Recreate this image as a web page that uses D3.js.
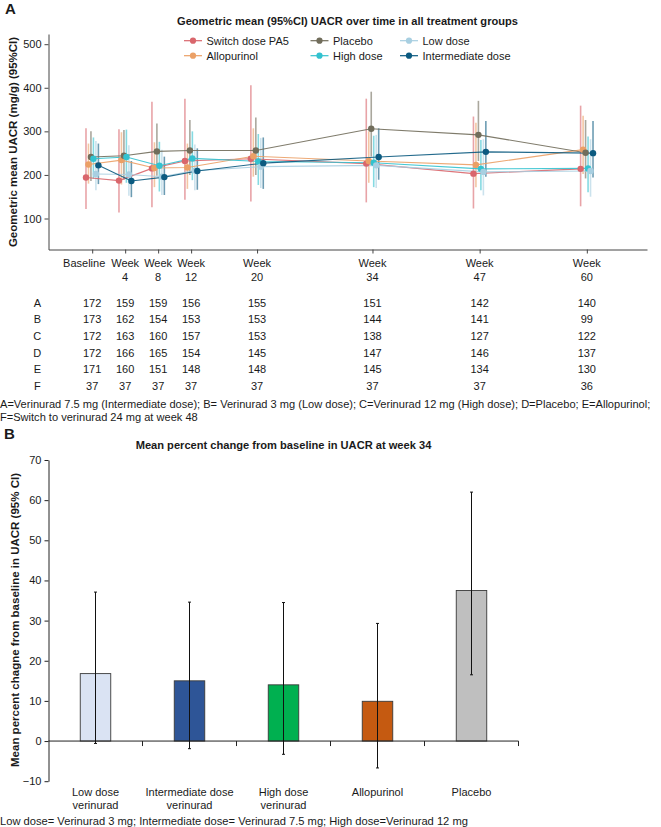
<!DOCTYPE html>
<html>
<head>
<meta charset="utf-8">
<script src="https://cdn.jsdelivr.net/npm/d3@7"></script>
<style>
  body { margin: 0; background: #fff; }
  svg { display: block; }
  text { font-family: "Liberation Sans", Arial, Helvetica, sans-serif; fill: #1a1a1a; }
</style>
</head>
<body>
<svg id="chart" width="661" height="827"></svg>
<script>
// ---- Panel A data ----
const weeks = [0, 4, 8, 12, 20, 34, 47, 60];
const tickTop = ["Baseline", "Week", "Week", "Week", "Week", "Week", "Week", "Week"];
const tickBottom = ["", "4", "8", "12", "20", "34", "47", "60"];

const groups = ["Switch dose PA5", "Allopurinol", "Placebo", "High dose", "Low dose", "Intermediate dose"];
const groupColors = ["#d9666c", "#eba066", "#716d5b", "#33c2cf", "#a8cfe1", "#0b5a80"];

const switchMean = [194, 187, 215, 232, 237, 226, 203, 214];
const switchLow  = [122, 114, 126, 143, 139, 137, 123, 128];
const switchHigh = [307, 305, 368, 375, 406, 375, 334, 359];

const alloMean = [224, 234, 216, 217, 243, 232, 223, 258];
const alloLow  = [180, 178, 172, 168, 196, 182, 172, 202];
const alloHigh = [272, 298, 275, 272, 307, 300, 320, 336];

const placeboMean = [241, 244, 254, 256, 256, 306, 292, 251];
const placeboLow  = [186, 189, 198, 200, 200, 242, 232, 192];
const placeboHigh = [300, 303, 318, 326, 332, 391, 370, 326];

const highMean = [237, 241, 221, 238, 231, 228, 214, 215];
const highLow  = [191, 182, 162, 188, 177, 172, 165, 160];
const highHigh = [286, 304, 276, 300, 294, 290, 280, 288];

const lowMean = [202, 201, 196, 210, 219, 222, 207, 209];
const lowLow  = [165, 152, 154, 165, 170, 170, 153, 150];
const lowHigh = [278, 268, 258, 270, 285, 292, 282, 282];

const interMean = [222, 186, 195, 209, 227, 241, 253, 250];
const interLow  = [179, 149, 154, 166, 168, 189, 196, 194];
const interHigh = [272, 232, 242, 261, 286, 307, 324, 324];

const yTicksA = [100, 200, 300, 400, 500];

// numbers at risk
const rowLabels = ["A", "B", "C", "D", "E", "F"];
const nA = [172, 159, 159, 156, 155, 151, 142, 140];
const nB = [173, 162, 154, 153, 153, 144, 141, 99];
const nC = [172, 163, 160, 157, 153, 138, 127, 122];
const nD = [172, 166, 165, 154, 145, 147, 146, 137];
const nE = [171, 160, 151, 148, 148, 145, 134, 130];
const nF = [37, 37, 37, 37, 37, 37, 37, 36];

// ---- Panel B data ----
const catsB = ["Low dose verinurad", "Intermediate dose verinurad", "High dose verinurad", "Allopurinol", "Placebo"];
const catLinesB = [["Low dose", "verinurad"], ["Intermediate dose", "verinurad"], ["High dose", "verinurad"], ["Allopurinol"], ["Placebo"]];
const meanB = [16.8, 15.0, 14.0, 9.9, 37.5];
const lowB  = [-0.6, -1.9, -3.3, -6.7, 16.5];
const highB = [37.1, 34.6, 34.5, 29.3, 62.0];
const colorsB = ["#dae3f3", "#2e5597", "#00b050", "#c55a11", "#bfbfbf"];
const yTicksB = [-10, 0, 10, 20, 30, 40, 50, 60, 70];

const series = [
  { mean: switchMean, lo: switchLow, hi: switchHigh },
  { mean: alloMean, lo: alloLow, hi: alloHigh },
  { mean: placeboMean, lo: placeboLow, hi: placeboHigh },
  { mean: highMean, lo: highLow, hi: highHigh },
  { mean: lowMean, lo: lowLow, hi: lowHigh },
  { mean: interMean, lo: interLow, hi: interHigh }
].map((s, i) => ({
  name: groups[i],
  color: groupColors[i],
  points: weeks.map((w, j) => ({ week: w, mean: s.mean[j], lo: s.lo[j], hi: s.hi[j] }))
}));

const svg = d3.select("#chart");

// scale a text element's font so it spans a given width
function fitWidth(sel, w) {
  const len = sel.node().getComputedTextLength();
  const fs = parseFloat(sel.attr("font-size"));
  sel.attr("font-size", (fs * w / len).toFixed(2));
}

// ================= Panel A =================
const xA = d3.scaleLinear().domain([-5.3, 67.3]).range([48.5, 647]);
const yA = d3.scaleLinear().domain([28.9, 523.4]).range([249.5, 34]);
const dodge = d3.scalePoint().domain(groups).range([-6.2, 6.2]);

svg.append("text").attr("x", 5).attr("y", 14)
  .attr("font-size", 15).attr("font-weight", "bold").text("A");

const titleA = svg.append("text").attr("x", 347.5).attr("y", 24.5)
  .attr("text-anchor", "middle").attr("font-size", 12).attr("font-weight", "bold")
  .style("font-family", '"Liberation Sans Narrow", "Arial Narrow", "Liberation Sans", sans-serif')
  .text("Geometric mean (95%CI) UACR over time in all treatment groups");
fitWidth(titleA, 341);

// legend
const legendCols = [184, 310.5, 400];
const legendRows = [40.7, 55.7];
const legend = svg.append("g");
groups.forEach((g, i) => {
  const lx = legendCols[Math.floor(i / 2)];
  const ly = legendRows[i % 2];
  const item = legend.append("g").attr("transform", `translate(${lx},${ly})`);
  item.append("line").attr("x1", 0).attr("x2", 18).attr("stroke", groupColors[i]).attr("stroke-width", 1.2);
  item.append("circle").attr("cx", 9).attr("r", 3.1).attr("fill", groupColors[i]);
  item.append("text").attr("x", 22.5).attr("y", 4).attr("font-size", 11).text(g);
});

// axes
const yAxisA = svg.append("g").attr("transform", "translate(48.5,0)")
  .call(d3.axisLeft(yA).tickValues(yTicksA).tickSize(4).tickSizeOuter(0).tickPadding(3));
yAxisA.select(".domain").attr("stroke", "#444");
yAxisA.selectAll(".tick line").attr("stroke", "#444");
yAxisA.selectAll(".tick text").attr("font-size", 11).attr("font-family", null).attr("fill", "#1a1a1a");

const xAxisA = svg.append("g").attr("transform", "translate(0,249.5)")
  .call(d3.axisBottom(xA).tickValues(weeks).tickSize(4).tickSizeOuter(0).tickFormat(""));
xAxisA.select(".domain").attr("stroke", "#444");
xAxisA.selectAll(".tick line").attr("stroke", "#444");

const tickLbl = svg.append("g").attr("font-size", 11).attr("text-anchor", "middle");
weeks.forEach((w, i) => {
  // the single-line "Baseline" label sits a little left of its tick
  const shift = tickBottom[i] ? 0 : -8;
  tickLbl.append("text").attr("x", xA(w) + shift).attr("y", 267.3).text(tickTop[i]);
  if (tickBottom[i]) tickLbl.append("text").attr("x", xA(w)).attr("y", 280.7).text(tickBottom[i]);
});

svg.append("text")
  .attr("transform", "translate(16.5,142) rotate(-90)")
  .attr("text-anchor", "middle").attr("font-size", 11.5).attr("font-weight", "bold")
  .text("Geometric mean UACR (mg/g) (95%CI)");

// CI bars
const plot = svg.append("g");
series.forEach(s => {
  plot.append("g").selectAll("line").data(s.points).join("line")
    .attr("x1", d => xA(d.week) + dodge(s.name))
    .attr("x2", d => xA(d.week) + dodge(s.name))
    .attr("y1", d => yA(d.lo)).attr("y2", d => yA(d.hi))
    .attr("stroke", s.color).attr("stroke-width", 1.6).attr("stroke-opacity", 0.6);
});
// connecting lines
const lineGen = d3.line().x(d => xA(d.week)).y(d => yA(d.mean));
series.forEach(s => {
  plot.append("path")
    .datum(s.points.map(p => ({ week: p.week + dodge(s.name) / (xA(1) - xA(0)), mean: p.mean })))
    .attr("d", lineGen).attr("fill", "none")
    .attr("stroke", s.color).attr("stroke-width", 1.1).attr("stroke-opacity", 0.9);
});
// points
series.forEach(s => {
  plot.append("g").selectAll("circle").data(s.points).join("circle")
    .attr("cx", d => xA(d.week) + dodge(s.name))
    .attr("cy", d => yA(d.mean))
    .attr("r", 3.2).attr("fill", s.color);
});

// numbers table
const tableRows = [nA, nB, nC, nD, nE, nF];
const table = svg.append("g").attr("font-size", 11).attr("text-anchor", "middle");
tableRows.forEach((row, r) => {
  const ty = 302.5 + r * 16.7 + 4;
  table.append("text").attr("x", 37.3).attr("y", ty).text(rowLabels[r]);
  row.forEach((v, j) => {
    table.append("text").attr("x", xA(weeks[j])).attr("y", ty).text(v);
  });
});

const foot1 = svg.append("text").attr("x", 0).attr("y", 407.7).attr("font-size", 10.5)
  .text("A=Verinurad 7.5 mg (Intermediate dose); B= Verinurad 3 mg (Low dose); C=Verinurad 12 mg (High dose); D=Placebo; E=Allopurinol;");
fitWidth(foot1, 651);
svg.append("text").attr("x", 0).attr("y", 421).attr("font-size", foot1.attr("font-size"))
  .text("F=Switch to verinurad 24 mg at week 48");

// ================= Panel B =================
const xB = d3.scaleBand().domain(catsB).range([48.5, 518.5]);
const yB = d3.scaleLinear().domain([-10, 70]).range([781.2, 460]);
const barW = 30.5;

svg.append("text").attr("x", 4).attr("y", 438.5)
  .attr("font-size", 15).attr("font-weight", "bold").text("B");

const titleB = svg.append("text").attr("x", 283.5).attr("y", 449.3)
  .attr("text-anchor", "middle").attr("font-size", 12).attr("font-weight", "bold")
  .style("font-family", '"Liberation Sans Narrow", "Arial Narrow", "Liberation Sans", sans-serif')
  .text("Mean percent change from baseline in UACR at week 34");
fitWidth(titleB, 296);

const yAxisB = svg.append("g").attr("transform", "translate(48.5,0)")
  .call(d3.axisLeft(yB).tickValues(yTicksB).tickSize(4).tickSizeOuter(0).tickPadding(3));
yAxisB.select(".domain").attr("stroke", "#222");
yAxisB.selectAll(".tick line").attr("stroke", "#222");
yAxisB.selectAll(".tick text").attr("font-size", 11).attr("font-family", null).attr("fill", "#1a1a1a");

svg.append("text")
  .attr("transform", "translate(19,620) rotate(-90)")
  .attr("text-anchor", "middle").attr("font-size", 11.5).attr("font-weight", "bold")
  .text("Mean percent chagne from baseline in UACR (95% CI)");

// bars
svg.append("g").selectAll("rect").data(catsB).join("rect")
  .attr("x", (d) => xB(d) + xB.bandwidth() / 2 - barW / 2)
  .attr("width", barW)
  .attr("y", (d, i) => Math.min(yB(meanB[i]), yB(0)))
  .attr("height", (d, i) => Math.abs(yB(0) - yB(meanB[i])))
  .attr("fill", (d, i) => colorsB[i])
  .attr("stroke", "#3a3a3a").attr("stroke-width", 0.9);

// zero axis with band ticks
svg.append("line").attr("x1", 48.5).attr("x2", xB.range()[1])
  .attr("y1", yB(0)).attr("y2", yB(0)).attr("stroke", "#222");
svg.append("g").selectAll("line").data(catsB).join("line")
  .attr("x1", d => xB(d) + xB.bandwidth()).attr("x2", d => xB(d) + xB.bandwidth())
  .attr("y1", yB(0)).attr("y2", yB(0) + 5).attr("stroke", "#222");

// error bars
const err = svg.append("g").attr("stroke", "#111").attr("stroke-width", 1);
catsB.forEach((c, i) => {
  const cx = xB(c) + xB.bandwidth() / 2;
  err.append("line").attr("x1", cx).attr("x2", cx).attr("y1", yB(lowB[i])).attr("y2", yB(highB[i]));
  err.append("line").attr("x1", cx - 1.5).attr("x2", cx + 1.5).attr("y1", yB(highB[i])).attr("y2", yB(highB[i]));
  err.append("line").attr("x1", cx - 1.5).attr("x2", cx + 1.5).attr("y1", yB(lowB[i])).attr("y2", yB(lowB[i]));
});

// category labels
const catLbl = svg.append("g").attr("font-size", 11).attr("text-anchor", "middle");
catsB.forEach((c, i) => {
  catLinesB[i].forEach((ln, k) => {
    catLbl.append("text").attr("x", xB(c) + xB.bandwidth() / 2).attr("y", 796 + k * 12.8).text(ln);
  });
});

const footB = svg.append("text").attr("x", 0).attr("y", 825).attr("font-size", 11)
  .text("Low dose= Verinurad 3 mg; Intermediate dose= Verinurad 7.5 mg; High dose=Verinurad 12 mg");
fitWidth(footB, 468);
</script>
</body>
</html>
